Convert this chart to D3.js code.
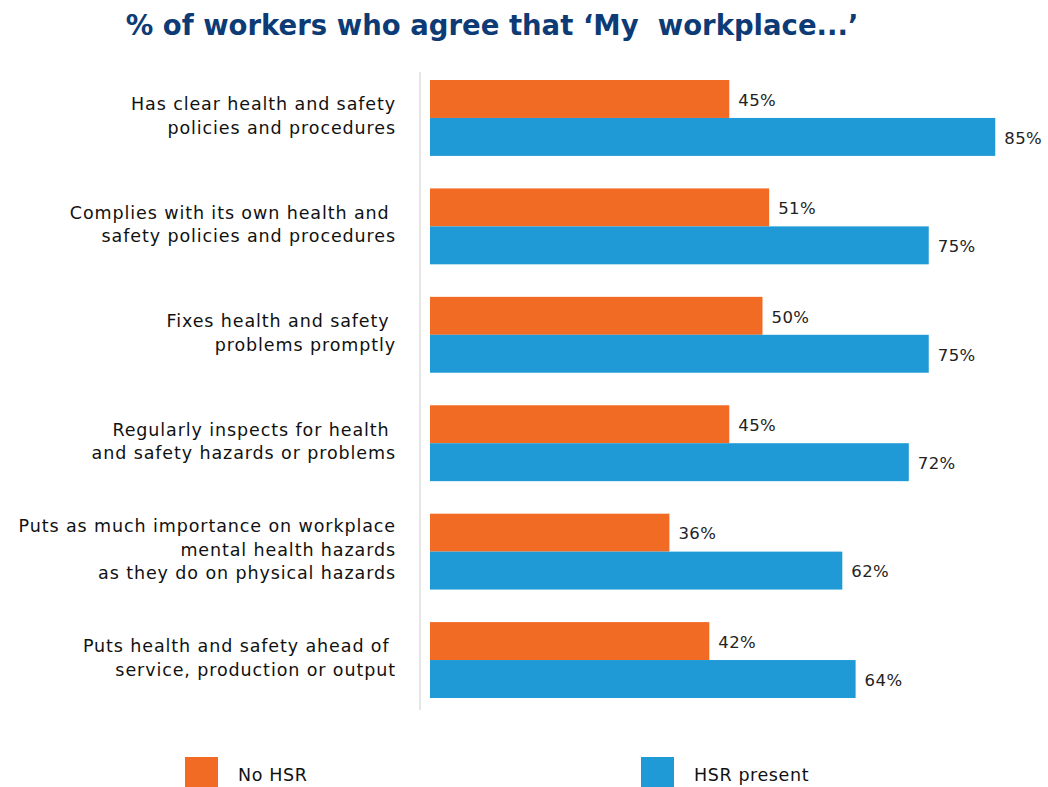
<!DOCTYPE html>
<html>
<head>
<meta charset="utf-8">
<script src="https://cdn.jsdelivr.net/npm/d3@7"></script>
<style>
  html, body { margin: 0; padding: 0; background: #fff; }
  svg { display: block; font-family: "DejaVu Sans", "Noto Sans", sans-serif; }
  text { white-space: pre; }
</style>
</head>
<body>
<svg id="chart" width="1048" height="787"></svg>
<script>
// Survey statements (each split into its display lines)
const categories = [
  ["Has clear health and safety", "policies and procedures"],
  ["Complies with its own health and ", "safety policies and procedures"],
  ["Fixes health and safety ", "problems promptly"],
  ["Regularly inspects for health ", "and safety hazards or problems"],
  ["Puts as much importance on workplace", "mental health hazards", "as they do on physical hazards"],
  ["Puts health and safety ahead of ", "service, production or output"]
];
const seriesNames = ["No HSR", "HSR present"];
const noHSR = [45, 51, 50, 45, 36, 42];
const hsrPresent = [85, 75, 75, 72, 62, 64];
const colors = ["#f26b25", "#1f9ad6"];

const svg = d3.select("#chart");

// Title
svg.append("text")
  .attr("x", 492).attr("y", 35)
  .attr("text-anchor", "middle")
  .attr("font-size", 27.5).attr("font-weight", 700)
  .attr("fill", "#0d3b76")
  .text("% of workers who agree that \u2018My  workplace...\u2019");

const x = d3.scaleLinear().domain([0, 100]).range([430, 1095]);
const y0 = d3.scaleBand().domain(d3.range(categories.length)).range([67, 711]).paddingInner(0.3).paddingOuter(0.12);
const y1 = d3.scaleBand().domain([0, 1]).range([0, y0.bandwidth()]);

// Baseline
svg.append("line")
  .attr("x1", 420).attr("x2", 420)
  .attr("y1", 72).attr("y2", 710)
  .attr("stroke", "#dcdcdc").attr("stroke-width", 1.5);

const rows = categories.map((c, i) => ({ i, lines: c, vals: [noHSR[i], hsrPresent[i]] }));

const g = svg.selectAll("g.group").data(rows).enter().append("g")
  .attr("class", "group")
  .attr("transform", d => `translate(0,${y0(d.i)})`);

g.selectAll("rect").data(d => d.vals.map((v, k) => ({ v, k }))).enter().append("rect")
  .attr("x", x(0))
  .attr("y", d => y1(d.k))
  .attr("width", d => x(d.v) - x(0))
  .attr("height", y1.bandwidth())
  .attr("fill", d => colors[d.k]);

g.selectAll("text.val").data(d => d.vals.map((v, k) => ({ v, k }))).enter().append("text")
  .attr("class", "val")
  .attr("x", d => x(d.v) + 9)
  .attr("y", d => y1(d.k) + y1.bandwidth() / 2 + 1)
  .attr("dy", "0.35em")
  .attr("font-size", 16.5)
  .attr("letter-spacing", 0.4)
  .attr("fill", "#222")
  .text(d => d.v + "%");

// Category labels
g.append("text")
  .attr("text-anchor", "end")
  .attr("font-size", 17.5)
  .attr("letter-spacing", 0.9)
  .attr("fill", "#111")
  .each(function(d) {
    const n = d.lines.length;
    const lh = 23.5;
    const mid = y0.bandwidth() / 2 - 2;
    d3.select(this).selectAll("tspan").data(d.lines).enter().append("tspan")
      .attr("x", 396)
      .attr("y", (t, j) => mid + (j - (n - 1) / 2) * lh)
      .attr("dy", "0.35em")
      .text(t => t);
  });

// Legend
const legendX = [185, 641];
const lg = svg.selectAll("g.legend").data(seriesNames).enter().append("g")
  .attr("class", "legend")
  .attr("transform", (d, k) => `translate(${legendX[k]},757)`);
lg.append("rect").attr("width", 33).attr("height", 32).attr("fill", (d, k) => colors[k]);
lg.append("text").attr("x", 53).attr("y", 18).attr("dy", "0.35em")
  .attr("font-size", 17.5).attr("letter-spacing", 0.6)
  .attr("fill", "#111").text(d => d);
</script>
</body>
</html>
